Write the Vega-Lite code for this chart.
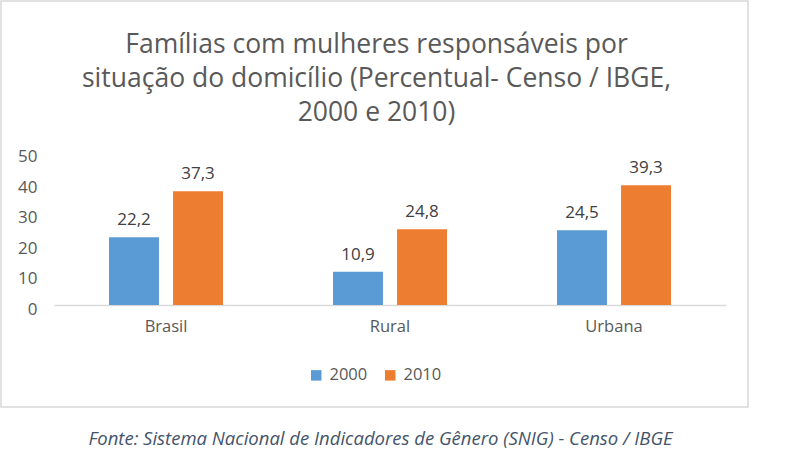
{
  "$schema": "https://vega.github.io/schema/vega-lite/v6.json",
  "width": 747,
  "height": 406,
  "autosize": {"type": "none"},
  "padding": {"left": 1, "top": 1, "right": 44, "bottom": 51},
  "background": "white",
  "title": {
    "text": ["Famílias com mulheres responsáveis por", "situação do domicílio (Percentual- Censo / IBGE,", "2000 e 2010)"],
    "anchor": "middle",
    "frame": "group",
    "orient": "top",
    "offset": -125,
    "dx": 2,
    "font": "Open Sans",
    "fontSize": 26.5,
    "fontWeight": "normal",
    "lineHeight": 34,
    "color": "#595959"
  },
  "data": {
    "values": [
      {"situacao": "Brasil", "ano": "2000", "percentual": 22.2},
      {"situacao": "Brasil", "ano": "2010", "percentual": 37.3},
      {"situacao": "Rural", "ano": "2000", "percentual": 10.9},
      {"situacao": "Rural", "ano": "2010", "percentual": 24.8},
      {"situacao": "Urbana", "ano": "2000", "percentual": 24.5},
      {"situacao": "Urbana", "ano": "2010", "percentual": 39.3}
    ]
  },
  "encoding": {
    "x": {
      "field": "situacao",
      "type": "nominal",
      "sort": null,
      "scale": {"range": [53, 725], "paddingInner": 0.491, "paddingOuter": 0.2455},
      "axis": {
        "title": "Fonte: Sistema Nacional de Indicadores de Gênero (SNIG) - Censo / IBGE",
        "titleFont": "Open Sans",
        "titleFontSize": 18.5,
        "titleFontStyle": "italic",
        "titleFontWeight": "normal",
        "titleColor": "#44546A",
        "titleX": 379,
        "titleY": 133,
        "titleAlign": "center",
        "titleBaseline": "middle",
        "offset": -102,
        "labelAngle": 0,
        "labelFont": "Open Sans",
        "labelFontSize": 16.5,
        "labelColor": "#595959",
        "labelPadding": 21,
        "labelBaseline": "middle",
        "ticks": false,
        "domainColor": "#D9D9D9",
        "domainWidth": 1.5,
        "grid": false
      }
    },
    "xOffset": {
      "field": "ano",
      "type": "nominal",
      "scale": {"paddingInner": 0.22, "paddingOuter": 0}
    }
  },
  "layer": [
    {
      "mark": {"type": "bar"},
      "encoding": {
        "y": {
          "field": "percentual",
          "type": "quantitative",
          "scale": {"domain": [0, 50], "range": [304, 151.5], "nice": false},
          "axis": {
            "title": null,
            "values": [0, 10, 20, 30, 40, 50],
            "offset": -44,
            "domain": false,
            "ticks": false,
            "grid": false,
            "labelFont": "Open Sans",
            "labelFontSize": 17,
            "labelColor": "#595959",
            "labelPadding": 8,
            "labelOffset": 4
          }
        },
        "color": {
          "field": "ano",
          "type": "nominal",
          "scale": {"domain": ["2000", "2010"], "range": ["#5B9BD5", "#ED7D31"]},
          "legend": {
            "title": null,
            "orient": "none",
            "direction": "horizontal",
            "legendX": 307,
            "legendY": 366,
            "symbolType": "square",
            "symbolSize": 110,
            "symbolStrokeWidth": 0,
            "labelFont": "Open Sans",
            "labelFontSize": 16.5,
            "labelColor": "#595959",
            "labelOffset": 5,
            "columnPadding": 14
          }
        }
      }
    },
    {
      "mark": {
        "type": "text",
        "baseline": "bottom",
        "dy": -8,
        "font": "Open Sans",
        "fontSize": 17,
        "color": "#404040"
      },
      "encoding": {
        "y": {"field": "percentual", "type": "quantitative"},
        "text": {"field": "percentual", "type": "quantitative", "format": ".1f"}
      }
    }
  ],
  "config": {
    "locale": {
      "number": {"decimal": ",", "thousands": ".", "grouping": [3], "currency": ["R$", ""]}
    },
    "view": {"stroke": "#D9D9D9", "strokeWidth": 1.5}
  }
}
